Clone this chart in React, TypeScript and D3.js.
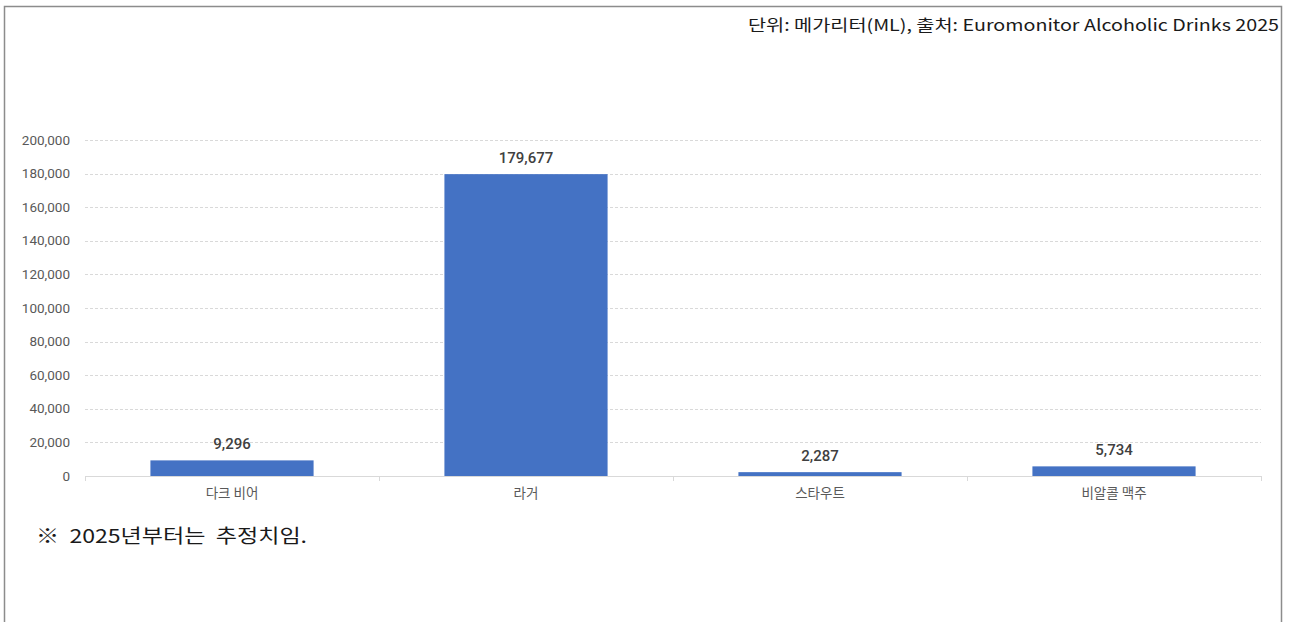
import React from "react";
import * as d3 from "d3";

const categories = ["다크 비어", "라거", "스타우트", "비알콜 맥주"];
const values = [9296, 179677, 2287, 5734];
const yTicks = [0, 20000, 40000, 60000, 80000, 100000, 120000, 140000, 160000, 180000, 200000];
const headerText = "단위: 메가리터(ML), 출처: Euromonitor Alcoholic Drinks 2025";
const footnote = "※  2025년부터는  추정치임.";

export default function App() {
  const W = 1289, H = 622;
  const x = d3.scaleBand<string>().domain(categories).range([85, 1261]).paddingInner(0.445).paddingOuter(0.2225);
  const band = d3.scaleBand<string>().domain(categories).range([85, 1261]);
  const y = d3.scaleLinear().domain([0, 200000]).range([476, 140]);
  const fmt = d3.format(",");
  const font = "Roboto, 'Noto Sans CJK KR', sans-serif";
  const boundaries = [...categories.map((c) => band(c)!), 1261];
  return (
    <svg width={W} height={H} style={{ position: "absolute", left: 0, top: 0, background: "#fff" }}>
      <path d={`M4.5,${H} V6.5 H1281.5 V${H}`} fill="none" stroke="#8c8c8c" strokeWidth={1.5} />
      <text x={1279} y={31} textAnchor="end" fontFamily="'Noto Sans CJK KR', sans-serif" fontSize={16} fill="#1a1a1a" textLength={531} lengthAdjust="spacingAndGlyphs">
        {headerText}
      </text>
      {yTicks.filter((t) => t > 0).map((t) => (
        <line key={t} x1={85} x2={1261} y1={Math.round(y(t)) + 0.5} y2={Math.round(y(t)) + 0.5} stroke="#d9d9d9" strokeDasharray="3,2" />
      ))}
      {yTicks.map((t) => (
        <text key={"l" + t} x={70} y={y(t) + 4.5} textAnchor="end" fontFamily={font} fontSize={13.5} fill="#595959">
          {fmt(t)}
        </text>
      ))}
      {categories.map((c, i) => (
        <rect key={c} x={x(c)} y={y(values[i])} width={x.bandwidth()} height={y(0) - y(values[i])} fill="#4472C4" />
      ))}
      {categories.map((c, i) => (
        <text key={"v" + c} x={x(c)! + x.bandwidth() / 2} y={y(values[i]) - 11} textAnchor="middle" fontFamily={font} fontSize={15} fontWeight={500} fill="#404040">
          {fmt(values[i])}
        </text>
      ))}
      <line x1={85} x2={1261} y1={476.5} y2={476.5} stroke="#d9d9d9" />
      {boundaries.map((b, i) => (
        <line key={"t" + i} x1={b + 0.5} x2={b + 0.5} y1={476} y2={481} stroke="#d9d9d9" />
      ))}
      {categories.map((c) => (
        <text key={"c" + c} x={band(c)! + band.bandwidth() / 2} y={498} textAnchor="middle" fontFamily="'Noto Sans CJK KR', sans-serif" fontSize={13.5} fill="#595959">
          {c}
        </text>
      ))}
      <text x={36} y={543} fontFamily="'Noto Sans CJK KR', sans-serif" fontSize={19} fill="#1a1a1a" style={{ whiteSpace: "pre" }} textLength={271} lengthAdjust="spacingAndGlyphs">
        {footnote}
      </text>
    </svg>
  );
}
